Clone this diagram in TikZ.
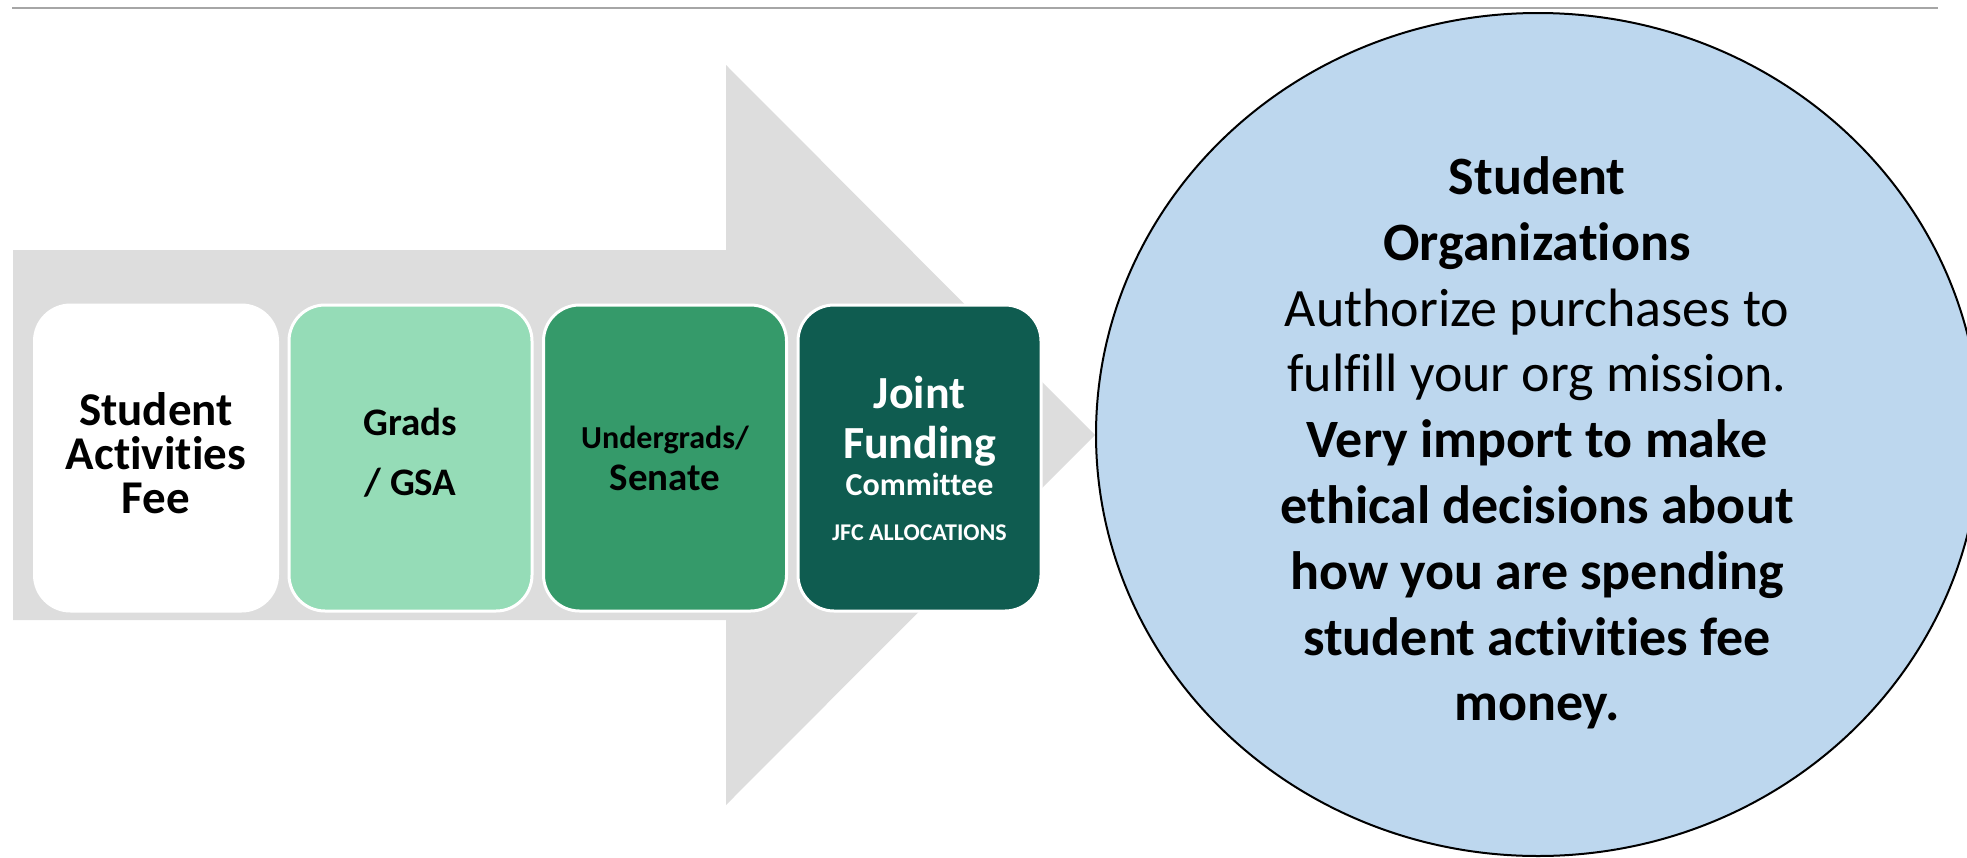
\documentclass[tikz,border=0pt]{standalone}
\usepackage{fontspec}
\setmainfont{Carlito}[Ligatures={NoCommon,NoContextual}]
\usetikzlibrary{shapes.geometric}

\definecolor{rulegray}{HTML}{A6A6A6}
\definecolor{arrowgray}{HTML}{DDDDDD}
\definecolor{mintgreen}{HTML}{95DCB7}
\definecolor{midgreen}{HTML}{359A6A}
\definecolor{darkgreen}{HTML}{0F5C50}
\definecolor{orgblue}{HTML}{BDD7EE}

\tikzset{
  stagebox/.style={rectangle, rounded corners=36pt, draw=white, line width=3pt,
    minimum width=243pt, minimum height=306pt, inner sep=0pt},
  boxline/.style={anchor=base, inner sep=0pt},
  orgcircle/.style={ellipse, draw=black, line width=2pt, fill=orgblue,
    minimum width=884pt, minimum height=843pt, inner sep=0pt},
}

\begin{document}
\begin{tikzpicture}[x=1pt,y=-1pt]
  \useasboundingbox (0,0) rectangle (1967,857);
  \clip (0,0) rectangle (1967,857);

  % thin rule along the top
  \coordinate (ruleL) at (12,8);
  \coordinate (ruleR) at (1938,8);
  \draw[rulegray, line width=2.5pt] (ruleL) -- (ruleR);

  % broad background arrow
  \fill[arrowgray] (13,250) -- (726,250) -- (726,65) -- (1095,435)
    -- (726,805) -- (726,620) -- (13,620) -- cycle;

  % the four funding stages
  \node[stagebox, fill=white]      (fee)   at (156,458)   {};
  \node[stagebox, fill=mintgreen]  (grads) at (410.5,458) {};
  \node[stagebox, fill=midgreen]   (under) at (665,458)   {};
  \node[stagebox, fill=darkgreen]  (jfc)   at (919.5,458) {};

  % stage labels
  \node[boxline, font=\fontsize{47}{47}\bfseries] (fee1) at (156,425) {Student};
  \node[boxline, font=\fontsize{47}{47}\bfseries] (fee2) at (156,469.5) {Activities};
  \node[boxline, font=\fontsize{47}{47}\bfseries] (fee3) at (156,513) {Fee};

  \node[boxline, font=\fontsize{39}{39}\bfseries] (grads1) at (410.5,435) {Grads};
  \node[boxline, font=\fontsize{39}{39}\bfseries] (grads2) at (410.5,495) {/ GSA};

  \node[boxline, font=\fontsize{32}{32}\bfseries] (under1) at (665,448) {Undergrads/};
  \node[boxline, font=\fontsize{39}{39}\bfseries] (under2) at (665,490) {Senate};

  \node[boxline, text=white, font=\fontsize{46}{46}\bfseries] (jfc1) at (919.5,408) {Joint};
  \node[boxline, text=white, font=\fontsize{46}{46}\bfseries] (jfc2) at (919.5,458) {Funding};
  \node[boxline, text=white, font=\fontsize{32}{32}\bfseries] (jfc3) at (919.5,495) {Committee};
  \node[boxline, text=white, font=\fontsize{24}{24}\bfseries] (jfc4) at (919.5,540) {JFC ALLOCATIONS};

  % student organizations
  \node[orgcircle] (orgs) at (1538,434.5) {};
  \node[align=center, inner sep=0pt, font=\fontsize{54}{65.8}\selectfont] (orgtext) at (1537,443)
    {\textbf{Student}\\
     \textbf{Organizations}\\
     Authorize purchases to\\
     fulfill your org mission.\\
     \textbf{Very import to make}\\
     \textbf{ethical decisions about}\\
     \textbf{how you are spending}\\
     \textbf{student activities fee}\\
     \textbf{money.}};
\end{tikzpicture}
\end{document}
